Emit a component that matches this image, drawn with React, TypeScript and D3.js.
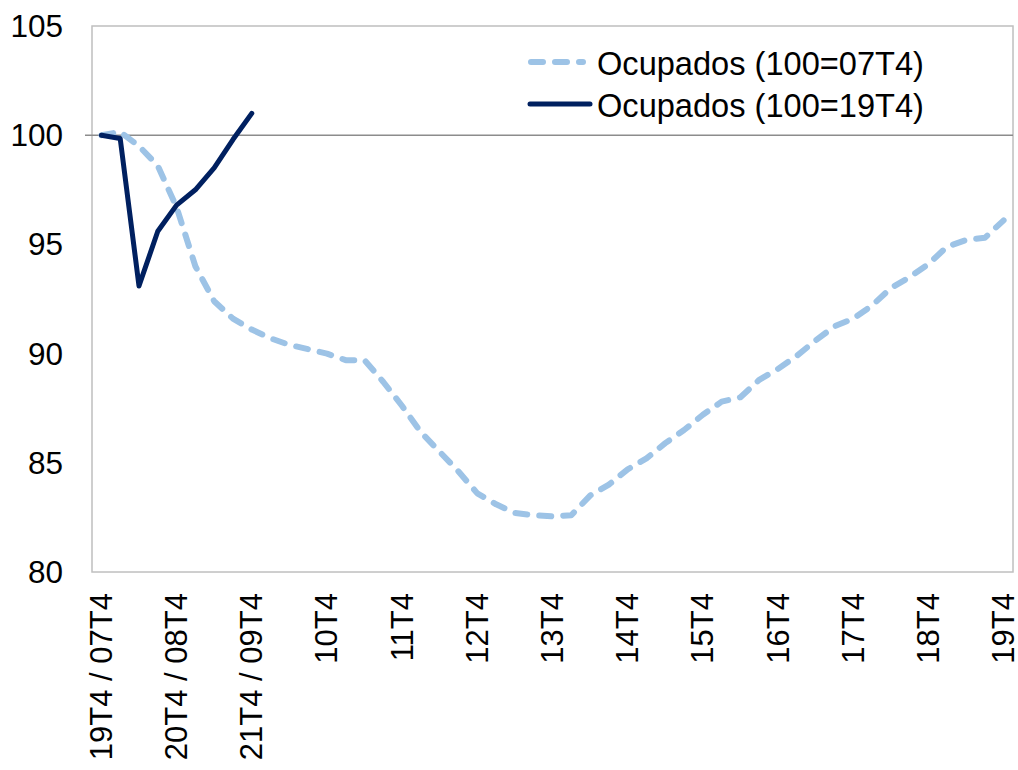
import React from "react";
import * as d3 from "d3";

// quarters 07T4 .. 19T4
const quarters = [
  "07T4", "08T1", "08T2", "08T3", "08T4", "09T1", "09T2", "09T3", "09T4",
  "10T1", "10T2", "10T3", "10T4", "11T1", "11T2", "11T3", "11T4",
  "12T1", "12T2", "12T3", "12T4", "13T1", "13T2", "13T3", "13T4",
  "14T1", "14T2", "14T3", "14T4", "15T1", "15T2", "15T3", "15T4",
  "16T1", "16T2", "16T3", "16T4", "17T1", "17T2", "17T3", "17T4",
  "18T1", "18T2", "18T3", "18T4", "19T1", "19T2", "19T3", "19T4",
];

const tickLabels = [
  "19T4 / 07T4", "20T4 / 08T4", "21T4 / 09T4", "10T4", "11T4", "12T4",
  "13T4", "14T4", "15T4", "16T4", "17T4", "18T4", "19T4",
];

const ocupados07 = [
  100, 100.15, 99.5, 98.6, 96.7, 94.0, 92.4, 91.6, 91.1, 90.7, 90.4, 90.2,
  90.0, 89.7, 89.7, 88.7, 87.6, 86.4, 85.5, 84.6, 83.6, 83.1, 82.7, 82.6,
  82.55, 82.6, 83.5, 84.0, 84.7, 85.2, 85.9, 86.5, 87.2, 87.8, 88.0, 88.8,
  89.3, 89.9, 90.6, 91.25, 91.6, 92.2, 93.0, 93.5, 94.1, 94.9, 95.2, 95.3,
  96.1,
];

const ocupados19 = [100, 99.85, 93.1, 95.6, 96.8, 97.5, 98.5, 99.8, 101.0];

const yTicks = [80, 85, 90, 95, 100, 105];

const seriesNames = ["Ocupados (100=07T4)", "Ocupados (100=19T4)"];

const W = 1018;
const H = 770;
const left = 92;
const right = 1013;
const top = 26;
const bottom = 572;
const font = "Arial, 'Liberation Sans', sans-serif";

export default function App() {
  const x = d3.scalePoint<string>().domain(quarters).range([left, right]).padding(0.5);
  const y = d3.scaleLinear().domain([80, 105]).range([bottom, top]);

  const line = d3
    .line<number>()
    .x((_, i) => x(quarters[i]) as number)
    .y((d) => y(d));

  return (
    <svg
      width={W}
      height={H}
      style={{ position: "absolute", left: 0, top: 0, background: "#fff" }}
      fontFamily={font}
    >
      <rect x={left} y={top} width={right - left} height={bottom - top} fill="none" stroke="#BFBFBF" strokeWidth={1.5} />
      <line x1={left - 7} x2={right} y1={y(100)} y2={y(100)} stroke="#8C8C8C" strokeWidth={1.5} />

      {yTicks.map((t) => (
        <text key={t} x={63} y={y(t)} dy="0.35em" textAnchor="end" fontSize={31.5} fill="#000">
          {t}
        </text>
      ))}

      {tickLabels.map((lab, k) => {
        const px = x(quarters[k * 4]) as number;
        return (
          <text
            key={lab}
            transform={`translate(${px + 10.5},${593}) rotate(-90)`}
            textAnchor="end"
            fontSize={31}
            fill="#000"
          >
            {lab}
          </text>
        );
      })}

      <path
        d={line(ocupados07) || ""}
        fill="none"
        stroke="#9DC3E6"
        strokeWidth={6}
        strokeDasharray="12 12"
        strokeLinecap="round"
        strokeLinejoin="round"
      />
      <path
        d={line(ocupados19) || ""}
        fill="none"
        stroke="#002060"
        strokeWidth={5}
        strokeLinecap="round"
        strokeLinejoin="round"
      />

      <g>
        <line x1={531} x2={583} y1={62} y2={62} stroke="#9DC3E6" strokeWidth={6} strokeDasharray="12 12" strokeLinecap="round" />
        <text x={597} y={75} fontSize={32.6} fill="#000">{seriesNames[0]}</text>
        <line x1={530} x2={590} y1={104} y2={104} stroke="#002060" strokeWidth={5} strokeLinecap="round" />
        <text x={597} y={117} fontSize={32.6} fill="#000">{seriesNames[1]}</text>
      </g>
    </svg>
  );
}
